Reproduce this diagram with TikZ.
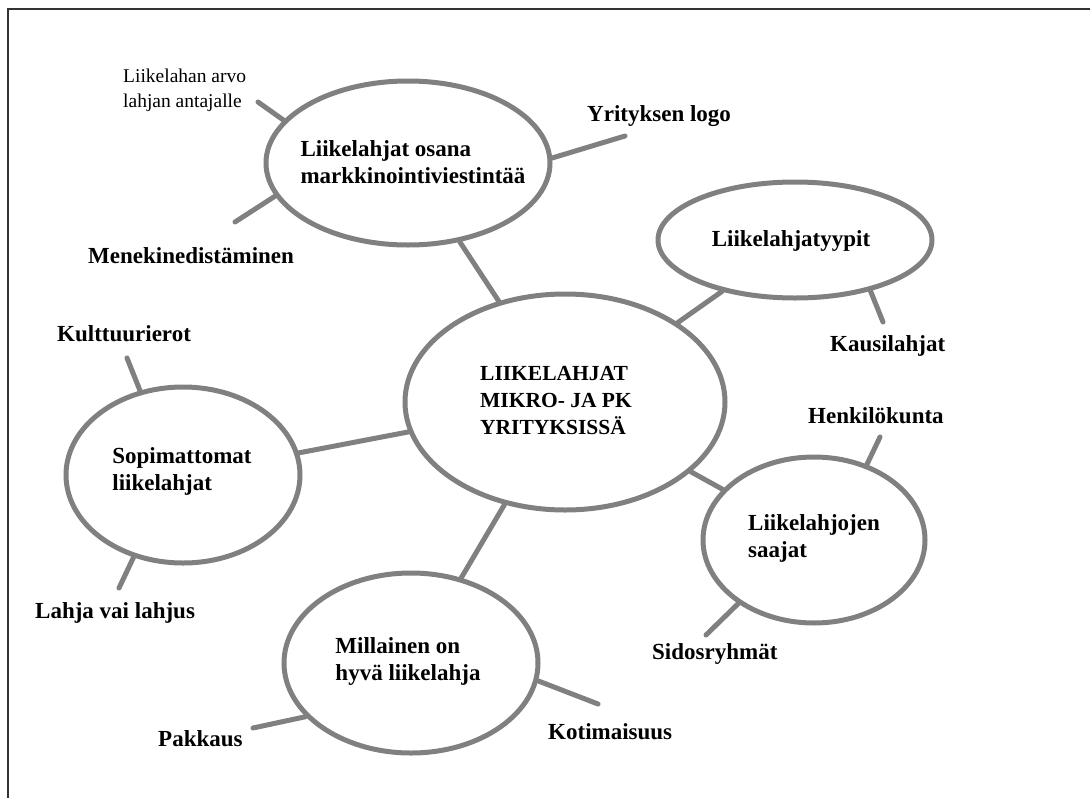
\documentclass[tikz,border=0pt]{standalone}
\usepackage{fontspec}
\setmainfont{Liberation Serif}
\usetikzlibrary{shapes.geometric}

\begin{document}
\begin{tikzpicture}[x=1pt, y=-1pt,
    bubble/.style={draw=linegray, line width=5pt, ellipse, inner sep=0pt},
    title/.style={inner sep=0pt, align=left, font=\fontsize{23}{27}\selectfont\bfseries},
    leaf/.style={inner sep=0pt, font=\fontsize{23}{27}\selectfont\bfseries},
    branch/.style={draw=linegray, line width=5pt, line cap=round}]
    \definecolor{linegray}{RGB}{128,128,128}
    \useasboundingbox (0,0) rectangle (1090,798);

    % kehys
    \draw[black!80, line width=2pt] (8,798) -- (8,9) -- (1090,9);

    % ellipsit
    \node[bubble, minimum width=320pt, minimum height=216pt] (hub) at (565,402) {};
    \node[bubble, minimum width=284pt, minimum height=164pt] (mark) at (408,163) {};
    \node[bubble, minimum width=274pt, minimum height=116pt] (types) at (795,240) {};
    \node[bubble, minimum width=222pt, minimum height=166pt] (recv) at (814,540) {};
    \node[bubble, minimum width=234pt, minimum height=176pt] (unfit) at (183,475) {};
    \node[bubble, minimum width=254pt, minimum height=180pt] (good) at (411,663) {};

    % ellipsien tekstit
    \node[title, font=\fontsize{21.5}{27}\selectfont\bfseries] (hubText) at (556,401)
        {LIIKELAHJAT\\MIKRO- JA PK\\YRITYKSISS\"A};
    \node[title] (markText) at (413,162) {Liikelahjat osana\\markkinointiviestint\"a\"a};
    \node[title] (typesText) at (791,241) {Liikelahjatyypit};
    \node[title] (recvText) at (814,538) {Liikelahjojen\\saajat};
    \node[title] (unfitText) at (182,471) {Sopimattomat\\liikelahjat};
    \node[title] (goodText) at (408,661) {Millainen on\\hyv\"a liikelahja};

    % tekstit
    \node[inner sep=0pt, anchor=west, align=left, font=\fontsize{19.5}{25}\selectfont]
        (arvo) at (123,90) {Liikelahan arvo\\lahjan antajalle};
    \node[leaf, anchor=base west] (menek) at (88,263) {Menekinedist\"aminen};
    \node[leaf, anchor=base west] (logo) at (587,121) {Yrityksen logo};
    \node[leaf, anchor=base west] (kausi) at (830,351) {Kausilahjat};
    \node[leaf, anchor=base west] (henk) at (808,423) {Henkil\"okunta};
    \node[leaf, anchor=base west] (sidos) at (652,659) {Sidosryhm\"at};
    \node[leaf, anchor=base west] (kult) at (57,341) {Kulttuurierot};
    \node[leaf, anchor=base west] (lahja) at (35,618) {Lahja vai lahjus};
    \node[leaf, anchor=base west] (pakk) at (158,746) {Pakkaus};
    \node[leaf, anchor=base west] (koti) at (548,739) {Kotimaisuus};

    % oksien vapaat p\"a\"at
    \coordinate (arvoEnd) at (258,102);
    \coordinate (menekEnd) at (235,222);
    \coordinate (logoEnd) at (625,136);
    \coordinate (kausiEnd) at (883,322);
    \coordinate (henkEnd) at (880,437);
    \coordinate (sidosEnd) at (706,635);
    \coordinate (kultEnd) at (127,358);
    \coordinate (lahjaEnd) at (119,588);
    \coordinate (pakkEnd) at (253,728);
    \coordinate (kotiEnd) at (598,704);

    % yhteydet keskelle
    \draw[branch] (hub) -- (mark);
    \draw[branch] (hub) -- (types);
    \draw[branch] (hub) -- (recv);
    \draw[branch] (hub) -- (unfit);
    \draw[branch] (hub) -- (good);

    % oksat
    \draw[branch] (mark.161) -- (arvoEnd);
    \draw[branch] (mark.194) -- (menekEnd);
    \draw[branch] (mark.2) -- (logoEnd);
    \draw[branch] (types.-34) -- (kausiEnd);
    \draw[branch] (recv.55) -- (henkEnd);
    \draw[branch] (recv.220) -- (sidosEnd);
    \draw[branch] (unfit.117) -- (kultEnd);
    \draw[branch] (unfit.239) -- (lahjaEnd);
    \draw[branch] (good.207) -- (pakkEnd);
    \draw[branch] (good.-8) -- (kotiEnd);
\end{tikzpicture}
\end{document}
